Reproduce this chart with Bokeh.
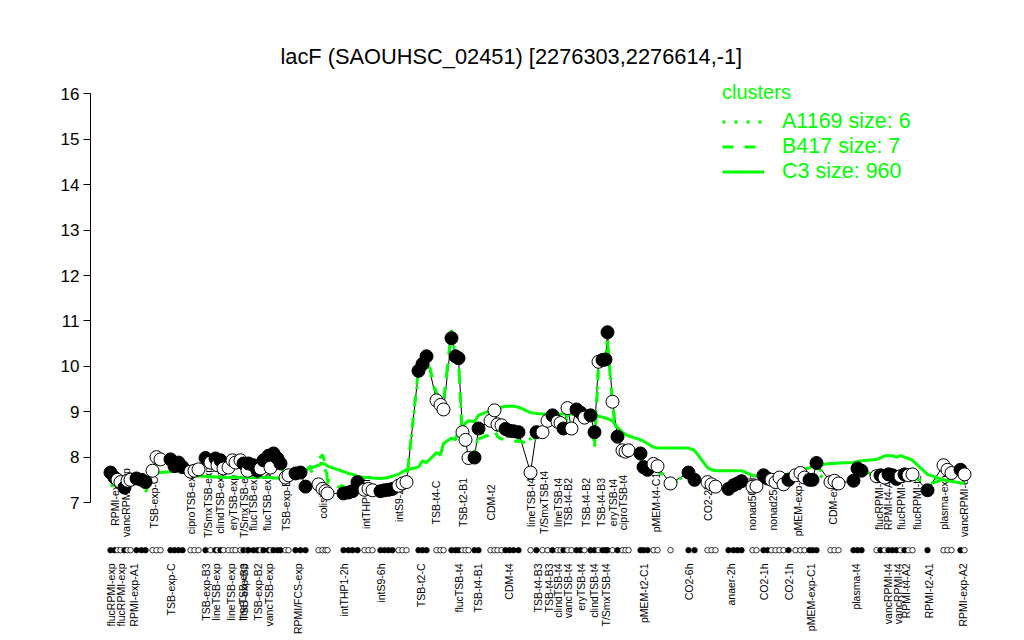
import math
from bokeh.plotting import figure
from bokeh.models import Range1d, LinearAxis, FixedTicker, Legend, LegendItem
from bokeh.core.properties import value
from bokeh.embed import file_html
from bokeh.resources import INLINE

FONT = "Liberation Sans"
GREEN = "#00FF00"

title_text = "lacF (SAOUHSC_02451) [2276303,2276614,-1]"
legend_title = "clusters"
cluster_names = ["A1169 size: 6", "B417 size: 7", "C3 size: 960"]
y_ticks = [7, 8, 9, 10, 11, 12, 13, 14, 15, 16]

# sample positions along the x axis (grouped by condition)
pos = [110, 114, 117, 120, 124, 127, 130, 136, 141, 145,
       152, 156, 160, 170, 174, 178, 182,
       190, 194, 198,
       205, 210, 215, 217, 220, 223, 228, 232, 235, 240, 243, 247, 248, 253, 257, 260, 263, 268, 270, 273, 277, 280,
       285, 288, 295, 300,
       305, 318, 322, 325, 327, 343, 348, 352, 357, 364, 368, 372, 380, 384, 388, 392, 398, 402, 406,
       418, 422, 426, 436, 440, 443, 451, 455, 458, 462, 465, 468, 474, 478,
       490, 494, 497, 501, 505, 509, 513, 518,
       530, 536, 542, 547, 552, 557, 560, 563, 567, 571, 576, 580, 584, 590, 594,
       598, 602, 605, 607, 612, 617, 622, 625, 628,
       640, 643, 647, 653, 657, 670,
       688, 694,
       707, 711, 715,
       728, 733, 737, 741,
       752, 756,
       763, 767, 771, 775, 779, 783, 788,
       795, 800, 804, 809, 812, 816,
       830, 834, 838,
       853, 857, 861,
       876, 880, 884, 888, 892, 896, 900, 904, 908, 912,
       927,
       943, 947, 951,
       960, 964]

# expression of lacF per sample
expr = [7.66, 7.55, 7.5, 7.45, 7.33, 7.48, 7.5, 7.53, 7.5, 7.45,
        7.7, 8.0, 7.95, 7.95, 7.8, 7.88, 7.78,
        7.68, 7.7, 7.73,
        7.98, 7.88, 7.97, 7.82, 7.93, 7.75, 7.77, 7.93, 7.88, 7.93, 7.86, 7.7, 7.86, 7.82, 7.7, 7.75, 7.93, 8.03, 7.77, 8.08, 7.97, 7.86,
        7.55, 7.6, 7.64, 7.66,
        7.35, 7.4, 7.3, 7.25, 7.2, 7.2, 7.22, 7.25, 7.45, 7.28, 7.3, 7.27, 7.25, 7.27, 7.28, 7.3, 7.37, 7.42, 7.45,
        9.9, 10.05, 10.22, 9.25, 9.15, 9.05, 10.62, 10.22, 10.18, 8.55, 8.38, 7.98, 7.99, 8.63,
        8.8, 9.03, 8.72, 8.7, 8.62, 8.58, 8.57, 8.55,
        7.66, 8.55, 8.55, 8.8, 8.92, 8.78, 8.75, 8.63, 9.08, 8.63, 9.05, 8.98, 8.87, 8.92, 8.55,
        10.1, 10.14, 10.15, 10.75, 9.22, 8.45, 8.15, 8.12, 8.15,
        8.08, 7.78, 7.72, 7.85, 7.8, 7.42,
        7.66, 7.5,
        7.45, 7.4, 7.35,
        7.3, 7.38, 7.42, 7.47,
        7.35, 7.36,
        7.6, 7.53, 7.5, 7.45, 7.55, 7.4, 7.5,
        7.6, 7.65, 7.55, 7.5, 7.5, 7.87,
        7.45, 7.48, 7.42,
        7.48, 7.75, 7.7,
        7.58, 7.6, 7.55, 7.62, 7.6, 7.52, 7.58, 7.62, 7.6, 7.62,
        7.27,
        7.82, 7.72, 7.65,
        7.72, 7.62]

# 1 = filled (black) marker, 0 = open marker
filled = [1, 1, 0, 0, 1, 0, 0, 1, 1, 1,
          0, 0, 0, 1, 1, 1, 1,
          0, 0, 0,
          1, 0, 1, 0, 1, 0, 0, 0, 0, 0, 1, 0, 1, 1, 1, 0, 1, 1, 0, 1, 1, 1,
          0, 0, 1, 1,
          1, 0, 0, 0, 0, 1, 1, 1, 1, 0, 0, 0, 1, 1, 1, 1, 0, 0, 0,
          1, 1, 1, 0, 0, 0, 1, 1, 1, 0, 0, 0, 1, 1,
          0, 0, 0, 0, 1, 1, 1, 1,
          0, 1, 0, 0, 1, 0, 0, 1, 0, 0, 1, 1, 0, 1, 1,
          0, 1, 1, 1, 0, 1, 0, 0, 0,
          1, 1, 1, 0, 0, 0,
          1, 1,
          0, 0, 0,
          1, 1, 1, 1,
          0, 0,
          1, 1, 0, 0, 0, 0, 1,
          0, 0, 0, 1, 1, 1,
          0, 0, 0,
          1, 1, 1,
          0, 1, 0, 1, 1, 1, 0, 1, 0, 0,
          1,
          0, 0, 0,
          1, 0]

# cluster mean profiles
c3 = [7.37, 7.38, 7.4, 7.42, 7.42, 7.43, 7.44, 7.45, 7.45, 7.5,
      7.62, 7.64, 7.66, 7.68, 7.7, 7.7, 7.68,
      7.6, 7.6, 7.58,
      7.58, 7.57, 7.56, 7.56, 7.56, 7.55, 7.55, 7.56, 7.56, 7.55, 7.55, 7.55, 7.55, 7.55, 7.56, 7.56, 7.55, 7.55, 7.55, 7.54, 7.54, 7.53,
      7.55, 7.58, 7.66, 7.7,
      7.72, 7.82, 7.86, 7.84, 7.8, 7.68, 7.64, 7.62, 7.58, 7.55, 7.55, 7.54, 7.53, 7.54, 7.55, 7.58, 7.62, 7.68, 7.72,
      7.78, 7.92, 7.88, 8.1, 8.05, 8.3, 8.42, 8.38, 8.6, 8.64, 8.75, 8.8, 8.78, 8.92,
      9.03, 9.07, 9.08, 9.1, 9.12, 9.12, 9.12, 9.1,
      8.98, 8.96, 8.95, 8.95, 8.95, 8.95, 8.95, 8.95, 8.95, 8.95, 8.93, 8.9, 8.87, 8.95, 8.92,
      8.9, 8.88, 8.86, 8.85, 8.8, 8.65, 8.55, 8.5, 8.47,
      8.38, 8.35, 8.3, 8.22, 8.2, 8.2,
      8.2, 8.15,
      7.77, 7.72, 7.7,
      7.7, 7.7, 7.7, 7.7,
      7.6, 7.58,
      7.55, 7.53, 7.53, 7.55, 7.58, 7.6, 7.63,
      7.66, 7.7, 7.73, 7.77, 7.8, 7.82,
      7.86, 7.86, 7.87,
      7.88, 7.9, 7.92,
      7.95, 7.98, 8.03, 8.03, 8.03, 8.0, 8.03, 8.0, 7.97, 7.93,
      7.62,
      7.5, 7.48, 7.47,
      7.43, 7.42]

b417 = [7.55, 7.5, 7.45, 7.42, 7.38, 7.45, 7.48, 7.45, 7.35, 7.22,
        7.65, 7.85, 7.85, 7.8, 7.72, 7.75, 7.7,
        7.68, 7.7, 7.72,
        7.9, 7.82, 7.88, 7.78, 7.85, 7.72, 7.74, 7.85, 7.82, 7.85, 7.8, 7.68, 7.8, 7.77, 7.68, 7.7, 7.85, 7.95, 7.72, 7.98, 7.9, 7.8,
        7.55, 7.58, 7.62, 7.68,
        7.7, 7.95, 8.05, 7.85, 7.5, 7.35, 7.3, 7.32, 7.5, 7.3, 7.32, 7.3, 7.28, 7.3, 7.3, 7.32, 7.38, 7.42, 7.45,
        9.95, 10.15, 10.25, 9.4, 9.3, 9.2, 10.8, 10.3, 10.2, 8.3, 8.2, 8.0, 8.1, 8.4,
        8.5, 8.6, 8.45, 8.4, 8.4, 8.38, 8.35, 8.35,
        8.3, 8.45, 8.5, 8.65, 8.8, 8.7, 8.72, 8.6, 8.9, 8.6, 8.9, 8.85, 8.75, 8.8, 8.2,
        10.0, 10.1, 10.2, 10.55, 9.15, 8.35, 8.05, 8.05, 8.05,
        7.95, 7.7, 7.65, 7.75, 7.7, 7.4,
        7.6, 7.45,
        7.42, 7.38, 7.33,
        7.3, 7.35, 7.4, 7.45,
        7.45, 7.4,
        7.55, 7.5, 7.48, 7.45, 7.52, 7.42, 7.48,
        7.62, 7.65, 7.58, 7.52, 7.5, 7.8,
        7.45, 7.48, 7.45,
        7.5, 7.7, 7.68,
        7.62, 7.68, 7.55, 7.72, 7.65, 7.5, 7.6, 7.7, 7.62, 7.58,
        7.4,
        7.5, 7.65, 7.6,
        7.65, 7.6]

a1169 = [7.6, 7.5, 7.45, 7.4, 7.35, 7.45, 7.5, 7.5, 7.4, 7.3,
         7.7, 7.9, 7.9, 7.85, 7.75, 7.78, 7.72,
         7.7, 7.72, 7.74,
         7.92, 7.85, 7.9, 7.8, 7.88, 7.74, 7.76, 7.88, 7.85, 7.88, 7.82, 7.7, 7.82, 7.8, 7.7, 7.72, 7.88, 7.98, 7.74, 8.0, 7.92, 7.82,
         7.57, 7.6, 7.64, 7.68,
         7.6, 7.8, 7.9, 7.7, 7.45, 7.3, 7.28, 7.3, 7.45, 7.35, 7.33, 7.3, 7.3, 7.3, 7.32, 7.33, 7.4, 7.45, 7.5,
         9.85, 10.0, 10.15, 9.35, 9.25, 9.15, 10.75, 10.25, 10.15, 8.4, 8.3, 8.0, 8.05, 8.5,
         8.6, 8.75, 8.55, 8.5, 8.48, 8.45, 8.42, 8.4,
         8.4, 8.5, 8.55, 8.7, 8.85, 8.72, 8.72, 8.62, 8.95, 8.62, 8.95, 8.9, 8.8, 8.85, 8.3,
         10.05, 10.12, 10.18, 10.65, 9.2, 8.4, 8.1, 8.08, 8.1,
         8.0, 7.72, 7.68, 7.8, 7.75, 7.42,
         7.62, 7.48,
         7.44, 7.4, 7.35,
         7.32, 7.36, 7.42, 7.46,
         7.4, 7.38,
         7.57, 7.52, 7.5, 7.45, 7.53, 7.4, 7.5,
         7.6, 7.64, 7.56, 7.5, 7.5, 7.65,
         7.43, 7.46, 7.44,
         7.5, 7.72, 7.68,
         7.6, 7.65, 7.55, 7.68, 7.62, 7.52, 7.6, 7.66, 7.6, 7.6,
         7.35,
         7.7, 7.68, 7.6,
         7.68, 7.6]

# labels drawn inside the plot
top_label_pos = [114, 125, 153, 190, 207, 219, 232, 243, 252, 266, 285, 322, 365, 398,
                 435, 462, 490, 530, 543, 557, 567, 585, 600, 612, 622, 655,
                 707, 751, 772, 797, 832, 878, 887, 900, 916, 943, 963]
top_labels = ["RPMI-exp", "vancRPMI-exp", "TSB-exp-C", "ciproTSB-exp", "T/SmxTSB-exp",
              "clindTSB-exp", "eryTSB-exp", "T/SmxTSB-exp", "flucTSB-exp", "flucTSB-exp",
              "TSB-exp-B1", "colistin", "intTHP1-6h", "intS9-2h",
              "TSB-t4-C", "TSB-t2-B1", "CDM-t2", "lineTSB-t4", "T/SmxTSB-t4", "lineTSB-t4",
              "TSB-t4-B2", "TSB-t4-B2", "TSB-t4-B3", "eryTSB-t4", "ciproTSB-t4", "pMEM-t4-C1",
              "CO2-2h", "nonad50-1h", "nonad25-1h", "pMEM-exp-C2", "CDM-exp",
              "flucRPMI-t4", "RPMI-t4-A1", "flucRPMI-t4", "flucRPMI-t2", "plasma-exp", "vancRPMI-exp"]

# labels under the plot
bottom_label_pos = [110, 120, 133, 170, 205, 215, 230, 242, 243, 257, 268, 297, 343, 380,
                    420, 458, 477, 508, 537, 548, 557, 567, 580, 593, 605, 643,
                    688, 730, 763, 788, 810, 855, 887, 897, 905, 928, 962]
bottom_labels = ["flucRPMI-exp", "flucRPMI-exp", "RPMI-exp-A1", "TSB-exp-C", "TSB-exp-B3",
                 "lineTSB-exp", "lineTSB-exp", "lineTSB-exp", "TSB-exp-B3", "TSB-exp-B2",
                 "vancTSB-exp", "RPMI/FCS-exp", "intTHP1-2h", "intS9-6h",
                 "TSB-t2-C", "flucTSB-t4", "TSB-t4-B1", "CDM-t4", "TSB-t4-B3", "TSB-t4-B3",
                 "clindTSB-t4", "vancTSB-t4", "eryTSB-t4", "clindTSB-t4", "T/SmxTSB-t4", "pMEM-t2-C1",
                 "CO2-6h", "anaer-2h", "CO2-1h", "CO2-1h", "pMEM-exp-C1", "plasma-t4",
                 "vancRPMI-t4", "vancRPMI-t4", "RPMI-t4-A2", "RPMI-t2-A1", "RPMI-exp-A2"]

n = len(pos)
assert all(len(a) == n for a in (expr, filled, c3, b417, a1169))
assert len(top_label_pos) == len(top_labels)
assert len(bottom_label_pos) == len(bottom_labels)

fill_colors = ["black" if f else "white" for f in filled]

p = figure(width=1016, height=638, output_backend="svg", toolbar_location=None,
           x_range=Range1d(90, 1000), y_range=Range1d(5.811, 16.405),
           min_border_left=90, min_border_right=16, min_border_top=75, min_border_bottom=82,
           x_axis_location=None, y_axis_location=None)
p.grid.visible = False
p.outline_line_color = None
p.background_fill_color = "white"
p.border_fill_color = "white"

p.title.text = title_text
p.title.align = "left"
p.title.offset = 190
p.title.text_font = FONT
p.title.text_font_size = "21.8px"
p.title.text_font_style = "normal"
p.title.text_color = "black"
p.title.standoff = 14

yaxis = LinearAxis(ticker=FixedTicker(ticks=y_ticks), bounds=(7, 16))
yaxis.major_tick_out = 7
yaxis.major_tick_in = 0
yaxis.minor_tick_out = 0
yaxis.minor_tick_in = 0
yaxis.major_label_standoff = 4
yaxis.major_label_text_font = FONT
yaxis.major_label_text_font_size = "17px"
yaxis.major_label_text_color = "black"
yaxis.axis_line_color = "black"
yaxis.major_tick_line_color = "black"
p.add_layout(yaxis, "left")

xaxis = LinearAxis(ticker=FixedTicker(ticks=bottom_label_pos),
                   major_label_overrides={x: t for x, t in zip(bottom_label_pos, bottom_labels)})
xaxis.axis_line_color = None
xaxis.major_tick_line_color = None
xaxis.minor_tick_line_color = None
xaxis.major_tick_out = 0
xaxis.major_tick_in = 0
xaxis.major_label_standoff = 7
xaxis.major_label_orientation = math.pi / 2
xaxis.major_label_text_font = FONT
xaxis.major_label_text_font_size = "10.5px"
xaxis.major_label_text_color = "black"
p.add_layout(xaxis, "below")

# inner labels, centred on y = 7
p.text(x=top_label_pos, y=[7] * len(top_label_pos), text=top_labels, angle=math.pi / 2,
       text_align="center", text_baseline="middle", text_font=value(FONT),
       text_font_size="10.5px", text_color="black")

# gene profile line
p.line(pos, expr, line_color="black", line_width=1)

# cluster profiles
r_c3 = p.line(pos, c3, line_color=GREEN, line_width=3)
r_b = p.line(pos, b417, line_color=GREEN, line_width=3, line_dash="11 11")
r_a = p.line(pos, a1169, line_color=GREEN, line_width=3, line_dash="3 9")

# points
p.scatter(pos, expr, size=13, fill_color=fill_colors, line_color="black", line_width=1)

# rug of samples
p.scatter(pos, [5.95] * n, size=5.5, fill_color=fill_colors, line_color="black", line_width=0.8)

legend = Legend(items=[LegendItem(label=cluster_names[0], renderers=[r_a]),
                       LegendItem(label=cluster_names[1], renderers=[r_b]),
                       LegendItem(label=cluster_names[2], renderers=[r_c3])],
                location=(632, 372), title=legend_title)
legend.title_text_color = GREEN
legend.title_text_font = FONT
legend.title_text_font_size = "20px"
legend.title_text_font_style = "normal"
legend.title_standoff = 5
legend.label_text_color = GREEN
legend.label_text_font = FONT
legend.label_text_font_size = "21.5px"
legend.glyph_width = 42
legend.glyph_height = 25
legend.label_height = 25
legend.label_standoff = 18
legend.spacing = 0
legend.padding = 0
legend.margin = 0
legend.border_line_color = None
legend.background_fill_alpha = 0
p.add_layout(legend)

open("out.html", "w").write(file_html(p, INLINE))
